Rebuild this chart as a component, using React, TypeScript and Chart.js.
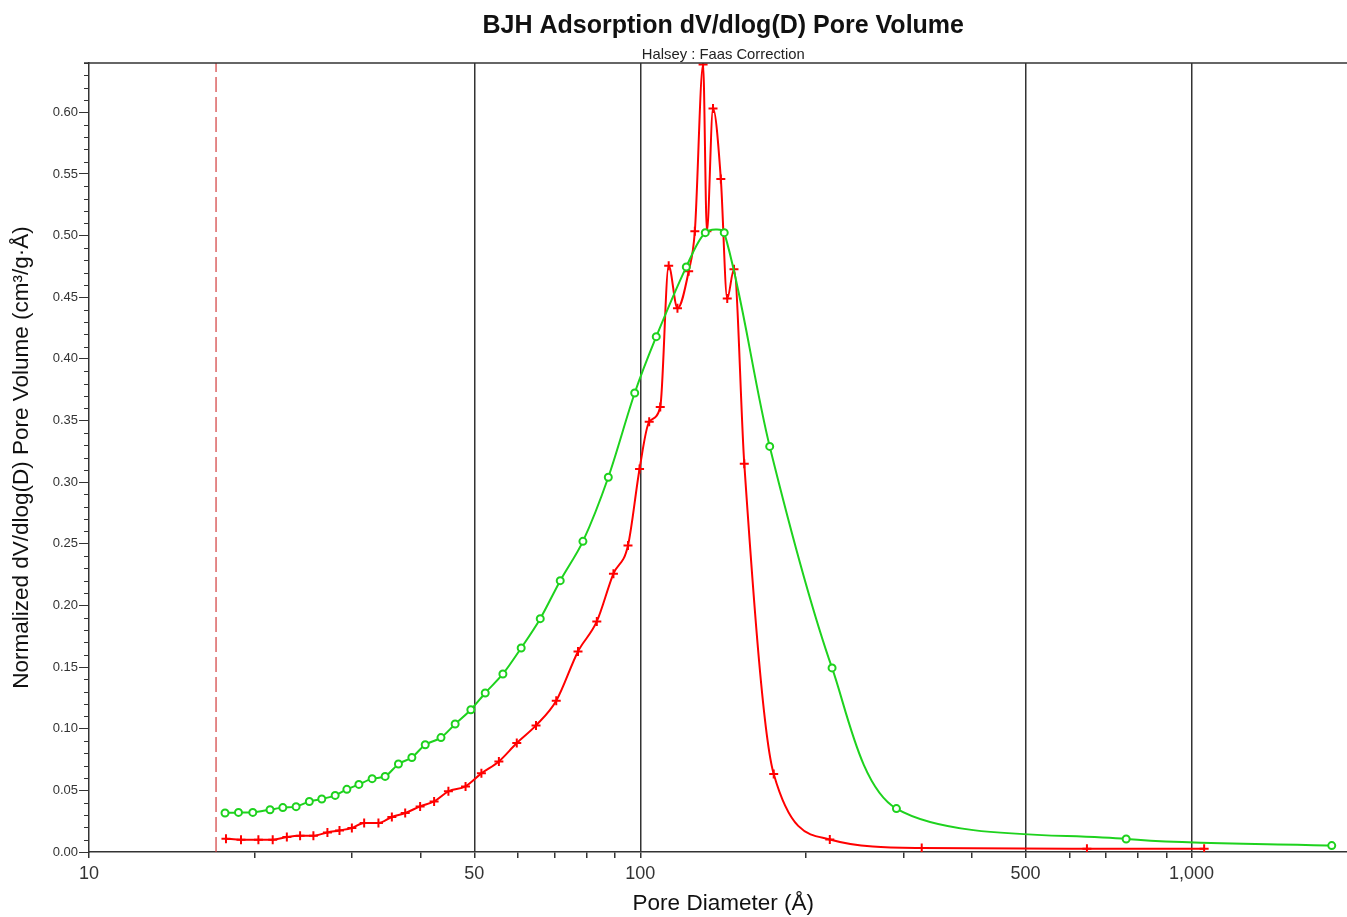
import React, { useEffect, useRef } from 'react';
import { Chart, registerables } from 'chart.js';

Chart.register(...registerables);

const titleText = 'BJH Adsorption dV/dlog(D) Pore Volume';
const subtitleText = 'Halsey : Faas Correction';
const xAxisTitle = 'Pore Diameter (Å)';
const yAxisTitle = 'Normalized dV/dlog(D) Pore Volume (cm³/g·Å)';

// Red series (+ markers)
const redDiameters = [
  17.72, 18.87, 20.29, 21.54, 22.85, 24.15, 25.53, 27.07, 28.47, 29.98,
  31.56, 33.5, 35.43, 37.46, 39.87, 42.27, 44.87, 48.2, 51.5, 55.4,
  59.7, 64.7, 70.4, 77.1, 83.4, 89.4, 95.0, 99.7, 103.8, 108.7,
  112.6, 116.8, 122.4, 125.6, 130.0, 132.1, 135.5, 140.0, 143.8, 147.9,
  154.4, 174.6, 220.7, 324, 646, 1054,
];
const redVolumes = [
  0.0108, 0.0100, 0.0100, 0.0100, 0.0122, 0.0132, 0.0132, 0.0159, 0.0175, 0.0195,
  0.0235, 0.0235, 0.0284, 0.0316, 0.0370, 0.0410, 0.0492, 0.0532, 0.0638, 0.0735,
  0.0884, 0.1027, 0.1227, 0.1627, 0.1870, 0.2258, 0.2487, 0.3107, 0.3490, 0.3610,
  0.4756, 0.4410, 0.4710, 0.5035, 0.6387, 0.5035, 0.6031, 0.5460, 0.4490, 0.4727,
  0.3150, 0.0633, 0.0102, 0.0032, 0.0027, 0.0027,
];

// Green series (o markers)
const greenDiameters = [
  17.65, 18.67, 19.82, 21.3, 22.47, 23.75, 25.1, 26.44, 27.96, 29.36,
  30.87, 32.63, 34.45, 36.42, 38.52, 40.73, 43.5, 46.15, 49.28, 52.33,
  56.34, 60.81, 65.85, 71.58, 78.7, 87.5, 97.7, 106.9, 121.2, 131.2,
  142.0, 171.7, 222.8, 291.5, 761, 1796,
];
const greenVolumes = [
  0.0316, 0.0321, 0.0321, 0.0343, 0.0360, 0.0368, 0.0410, 0.0430, 0.0459, 0.0508,
  0.0548, 0.0595, 0.0613, 0.0714, 0.0767, 0.0870, 0.0928, 0.1038, 0.1154, 0.1290,
  0.1444, 0.1655, 0.1893, 0.2201, 0.2520, 0.3040, 0.3723, 0.4180, 0.4746, 0.5024,
  0.5024, 0.3290, 0.1493, 0.0352, 0.0105, 0.0052,
];

const cutoffDiameter = 17.0;

const xMin = 10;
const xMax = 2000;
const yMin = 0;
const yMax = 0.64;
const xTickValues = [10, 20, 30, 40, 50, 60, 70, 80, 90, 100, 200, 300, 400, 500, 600, 700, 800, 900, 1000, 2000];
const xLabeledTicks = [10, 50, 100, 500, 1000];
const xGridTicks = [50, 100, 500, 1000];
const yMajorStep = 0.05;
const yMinorStep = 0.01;

const FONT = '"Liberation Sans", Arial, Helvetica, sans-serif';
const RED = '#ff0000';
const GREEN = '#1ed21e';

const decorPlugin = {
  id: 'decor',
  afterDraw(chart: any) {
    const { ctx, chartArea, scales } = chart;
    const ys = scales.y;
    ctx.save();
    ctx.strokeStyle = '#333';
    ctx.lineWidth = 1;
    const perMajor = Math.round(yMajorStep / yMinorStep);
    const n = Math.round((yMax - yMin) / yMinorStep);
    for (let i = 0; i <= n; i++) {
      if (i % perMajor === 0) continue;
      const v = yMin + i * yMinorStep;
      const py = Math.round(ys.getPixelForValue(v)) + 0.5;
      ctx.beginPath();
      ctx.moveTo(chartArea.left - 5, py);
      ctx.lineTo(chartArea.left, py);
      ctx.stroke();
    }
    ctx.lineWidth = 1.5;
    ctx.beginPath();
    ctx.moveTo(chartArea.left - 5, chartArea.top);
    ctx.lineTo(chartArea.right, chartArea.top);
    ctx.stroke();

    const cx = (chartArea.left + chartArea.right) / 2;
    ctx.textAlign = 'center';
    ctx.textBaseline = 'alphabetic';
    ctx.fillStyle = '#111';
    ctx.font = `bold 25px ${FONT}`;
    ctx.fillText(titleText, cx, 33);
    ctx.fillStyle = '#222';
    ctx.font = `14.8px ${FONT}`;
    ctx.fillText(subtitleText, cx, 59);
    ctx.restore();
  },
};

export default function App() {
  const canvasRef = useRef<HTMLCanvasElement | null>(null);

  useEffect(() => {
    if (!canvasRef.current) return;
    Chart.defaults.font.family = FONT;
    const redData = redDiameters.map((d, i) => ({ x: d, y: redVolumes[i] }));
    const greenData = greenDiameters.map((d, i) => ({ x: d, y: greenVolumes[i] }));
    const cutoffData = [
      { x: cutoffDiameter, y: yMin },
      { x: cutoffDiameter, y: yMax },
    ];

    const chart = new Chart(canvasRef.current, {
      type: 'line',
      data: {
        datasets: [
          {
            label: 'Green',
            data: greenData,
            borderColor: GREEN,
            borderWidth: 2,
            pointStyle: 'circle',
            pointRadius: 3.5,
            pointBorderWidth: 2,
            pointBorderColor: GREEN,
            pointBackgroundColor: '#ffffff',
            tension: 0.3,
            fill: false,
            order: 1,
          },
          {
            label: 'Red',
            data: redData,
            borderColor: RED,
            borderWidth: 2,
            pointStyle: 'cross',
            pointRadius: 4.5,
            pointBorderWidth: 2,
            pointBorderColor: RED,
            pointBackgroundColor: RED,
            cubicInterpolationMode: 'monotone',
            fill: false,
            order: 2,
          },
          {
            label: 'Cutoff',
            data: cutoffData,
            borderColor: 'rgb(210,60,60)',
            borderWidth: 1.2,
            borderDash: [15, 5],
            pointRadius: 0,
            fill: false,
            order: 3,
          },
        ],
      },
      options: {
        animation: false,
        responsive: true,
        maintainAspectRatio: false,
        events: [],
        layout: { padding: { left: 0, right: 3, top: 63, bottom: 0 } },
        plugins: {
          legend: { display: false },
          tooltip: { enabled: false },
          title: { display: false },
        },
        scales: {
          x: {
            type: 'logarithmic',
            min: xMin,
            max: xMax,
            afterBuildTicks: (scale: any) => {
              scale.ticks = xTickValues.map((v) => ({ value: v }));
            },
            afterFit: (scale: any) => {
              scale.height = 65;
            },
            ticks: {
              autoSkip: false,
              maxRotation: 0,
              minRotation: 0,
              padding: 5,
              color: '#333',
              font: { size: 18 },
              callback: (v: any) =>
                xLabeledTicks.includes(Number(v)) ? Number(v).toLocaleString('en-US') : '',
            },
            grid: {
              drawOnChartArea: true,
              drawTicks: true,
              tickLength: 6,
              tickColor: '#333',
              lineWidth: 1.5,
              color: (c: any) =>
                c.tick && xGridTicks.includes(c.tick.value) ? '#333' : 'rgba(0,0,0,0)',
            },
            border: { color: '#333', width: 1.5 },
            title: {
              display: true,
              text: xAxisTitle,
              color: '#111',
              font: { size: 22.5 },
              padding: { top: -1.5, bottom: 0 },
            },
          },
          y: {
            type: 'linear',
            min: yMin,
            max: yMax,
            afterFit: (scale: any) => {
              scale.width = 89;
            },
            ticks: {
              stepSize: yMajorStep,
              includeBounds: false,
              padding: 1,
              color: '#333',
              font: { size: 13 },
              callback: (v: any) => Number(v).toFixed(2),
            },
            grid: {
              drawOnChartArea: false,
              drawTicks: true,
              tickLength: 10,
              tickColor: '#333',
            },
            border: { color: '#333', width: 1.5 },
            title: {
              display: true,
              text: yAxisTitle,
              color: '#111',
              font: { size: 22.5 },
              padding: { top: 8.5, bottom: 0 },
            },
          },
        },
      },
      plugins: [decorPlugin],
    } as any);

    return () => chart.destroy();
  }, []);

  return (
    <div
      style={{
        position: 'fixed',
        left: 0,
        top: 0,
        width: 1347,
        height: 917,
        overflow: 'hidden',
        background: '#ffffff',
      }}
    >
      <div style={{ position: 'relative', width: 1364, height: 917 }}>
        <canvas ref={canvasRef} />
      </div>
    </div>
  );
}
